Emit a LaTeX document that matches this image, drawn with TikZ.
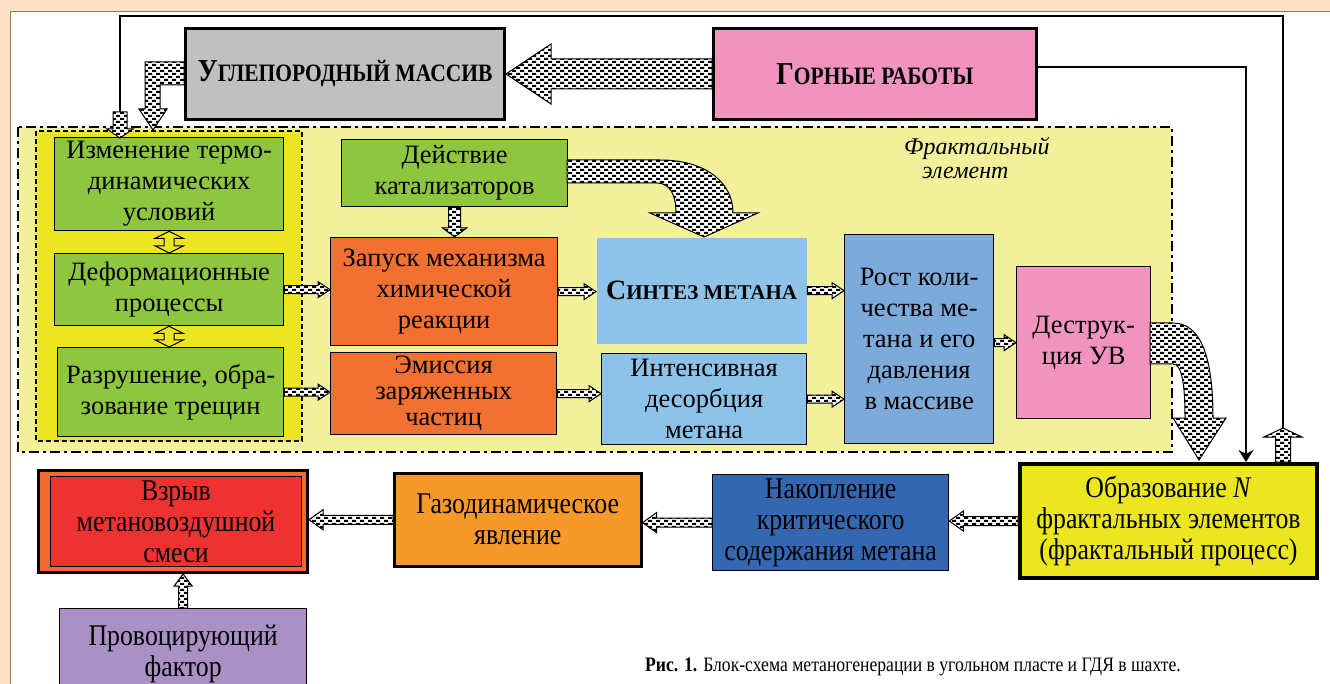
\documentclass[tikz,border=0pt]{standalone}
\usepackage{fontspec}
\setmainfont{Liberation Serif}
\newfontfamily\condf[FakeStretch=0.86]{Liberation Serif}
\usetikzlibrary{patterns,calc,arrows.meta}
\definecolor{cpeach}{HTML}{FDE4C9}
\definecolor{colive}{HTML}{8C8046}
\definecolor{cfrac}{HTML}{F3F09B}
\definecolor{cinner}{HTML}{EBE61F}
\definecolor{cgreen}{HTML}{8EC640}
\definecolor{corange}{HTML}{F27030}
\definecolor{csin}{HTML}{8EC3E9}
\definecolor{crost}{HTML}{7BAADB}
\definecolor{cpink}{HTML}{F193BF}
\definecolor{cgray}{HTML}{C0C0C0}
\definecolor{cobr}{HTML}{EBE620}
\definecolor{cnak}{HTML}{3567B1}
\definecolor{cgaz}{HTML}{F7982B}
\definecolor{cvzro}{HTML}{F26B2E}
\definecolor{cred}{HTML}{EE3232}
\definecolor{cprov}{HTML}{A990C5}
\pgfdeclarepatternformonly{mydots}{\pgfpoint{-1pt}{-1pt}}{\pgfpoint{9pt}{7pt}}{\pgfpoint{8pt}{6pt}}{%
  \pgfpathrectangle{\pgfpoint{0pt}{0pt}}{\pgfpoint{4pt}{2pt}}%
  \pgfpathrectangle{\pgfpoint{4pt}{3pt}}{\pgfpoint{4pt}{2pt}}%
  \pgfusepath{fill}}
\tikzset{
  blk/.style={draw=black, line width=1pt, line join=miter, preaction={fill=white}, pattern=mydots, pattern color=black},
  box/.style={draw=black, line width=1.3pt, inner sep=0pt, align=center, anchor=north west, font=\fontsize{26.5}{31}\selectfont},
  cbox/.style={box, font=\condf\fontsize{30}{31}\selectfont},
  tbox/.style={box, line width=3pt, font=\condf\bfseries},
}
\newcommand\hblk[6][]{%
  \draw[blk,#1] let \p1=(#2), \p2=(#3), \n1={ifthenelse(\x2>\x1,1,-1)} in
   (\x1,{\y1+#4}) -- ({\x2-(\n1)*#6},{\y1+#4}) -- ({\x2-(\n1)*#6},{\y1+#5}) -- (\x2,\y1)
   -- ({\x2-(\n1)*#6},{\y1-#5}) -- ({\x2-(\n1)*#6},{\y1-#4}) -- (\x1,{\y1-#4}) -- cycle;}
\newcommand\vblk[6][]{%
  \draw[blk,#1] let \p1=(#2), \p2=(#3), \n1={ifthenelse(\y2>\y1,1,-1)} in
   ({\x1+#4},\y1) -- ({\x1+#4},{\y2-(\n1)*#6}) -- ({\x1+#5},{\y2-(\n1)*#6}) -- (\x1,\y2)
   -- ({\x1-#5},{\y2-(\n1)*#6}) -- ({\x1-#4},{\y2-(\n1)*#6}) -- ({\x1-#4},\y1) -- cycle;}
\newcommand\dvblk[6][]{%
  \draw[draw=black, line width=1pt,#1] let \p1=(#2), \p2=(#3) in
   (\x1,\y1) -- ({\x1+#5},{\y1-#6}) -- ({\x1+#4},{\y1-#6}) -- ({\x1+#4},{\y2+#6}) -- ({\x1+#5},{\y2+#6})
   -- (\x1,\y2) -- ({\x1-#5},{\y2+#6}) -- ({\x1-#4},{\y2+#6}) -- ({\x1-#4},{\y1-#6}) -- ({\x1-#5},{\y1-#6}) -- cycle;}
\begin{document}
\begin{tikzpicture}[x=1pt,y=-1pt]
\useasboundingbox (0,0) rectangle (1330,684);
\fill[cpeach] (0,0) rectangle (1330,684);
\draw[colive, fill=white, line width=1pt] (10,12) rectangle (1340,700);

% fractal element frame
\draw[fill=cfrac, line width=2.8pt, dash pattern=on 10pt off 4pt on 3pt off 4pt] (18,127) rectangle (1172,452);
\draw[fill=cinner, line width=1.8pt, dash pattern=on 5pt off 3pt] (36,131) rectangle (302,441);
\node[font=\fontsize{24}{24.5}\selectfont\itshape, align=left, anchor=north west, inner sep=0pt] (fr) at (904,137)
  {Фрактальный\\\hspace*{18pt}элемент};

% top boxes
\node[tbox, fill=cgray, minimum width=319, minimum height=91] (ugl) at (184,27)
  {{\fontsize{32}{34}\selectfont У}{\fontsize{25}{34}\selectfont ГЛЕПОРОДНЫЙ МАССИВ}};
\node[tbox, fill=cpink, minimum width=323, minimum height=91] (gor) at (712,27)
  {{\fontsize{32}{34}\selectfont Г}{\fontsize{25}{34}\selectfont ОРНЫЕ РАБОТЫ}};

% inner boxes
\node[box, fill=cgreen, minimum width=229, minimum height=93] (izm) at (54,137) {Изменение термо-\\динамических\\условий};
\node[box, fill=cgreen, minimum width=229, minimum height=72] (def) at (54,253) {Деформационные\\процессы};
\node[box, fill=cgreen, minimum width=226, minimum height=89] (raz) at (57,347) {Разрушение, обра-\\зование трещин};
\node[box, fill=cgreen, minimum width=226, minimum height=67] (kat) at (341,139) {Действие\\катализаторов};
\node[box, fill=corange, minimum width=227, minimum height=108] (zap) at (330,237) {Запуск механизма\\химической\\реакции};
\node[box, fill=corange, minimum width=226, minimum height=82, font=\fontsize{26.5}{26}\selectfont] (emi) at (330,352) {Эмиссия\\заряженных\\частиц};
\node[box, draw=none, fill=csin, minimum width=210, minimum height=106] (sin) at (596,237)
  {\bfseries{\fontsize{28}{30}\selectfont С}{\fontsize{21}{30}\selectfont ИНТЕЗ МЕТАНА}};
\node[box, fill=csin, minimum width=205, minimum height=91] (int) at (601,353) {Интенсивная\\десорбция\\метана};
\node[box, fill=crost, minimum width=149, minimum height=209] (rost) at (844,234) {Рост коли-\\чества ме-\\тана и его\\давления\\в массиве};
\node[box, fill=cpink, minimum width=134, minimum height=152] (des) at (1016,266) {Деструк-\\ция УВ};

% bottom boxes
\node[cbox, line width=4pt, fill=cobr, minimum width=297, minimum height=114] (obr) at (1018,462)
  {Образование \textit{N}\\фрактальных элементов\\(фрактальный процесс)};
\node[cbox, fill=cnak, minimum width=236, minimum height=96] (nak) at (712,474) {Накопление\\критического\\содержания метана};
\node[cbox, line width=2.5pt, fill=cgaz, minimum width=247, minimum height=93] (gaz) at (393,472) {Газодинамическое\\явление};
\node[box, line width=3pt, fill=cvzro, minimum width=269, minimum height=102] (vzr) at (37,469) {};
\node[cbox, line width=1pt, fill=cred, minimum width=251, minimum height=90] (vzrin) at (50,476) {Взрыв\\метановоздушной\\смеси};
\node[cbox, fill=cprov, minimum width=247, minimum height=90] (prov) at (59,608) {Провоцирующий\\фактор};

% caption
\node[font=\condf\fontsize{20.5}{22}\selectfont] (cap) at (913,667) {\textbf{Рис. 1.} Блок-схема метаногенерации в угольном пласте и ГДЯ в шахте.};

% loop line and small arrows
\coordinate (uptip) at (1283,428);
\coordinate (dtop) at (120,112);
\coordinate (dtip) at (120,138);
\coordinate (gx) at (1246,0);
\draw[line width=1.2pt] (uptip) |- (120,16) -- (dtop);
\vblk{uptip |- obr.north}{uptip}{7.5}{19}{9}
\vblk{dtop}{dtip}{7}{13}{9}
\draw[line width=2.5pt, -{Stealth[length=12pt,width=15pt]}] ($(gor.east)+(0,-7)$) -| (gx |- obr.north);

% big arrows
\hblk{gor.west}{ugl.east}{15}{30}{45}
\draw[blk] (184,62) -- (145,62) -- (145,109) -- (139,109) -- (153,130) -- (167,109) -- (160,109) -- (160,85) -- (184,85) -- cycle;
\draw[blk] (567,160) -- (660,160) .. controls (705,160) and (733,182) .. (733,213) -- (758,213) -- (704,237) -- (650,213) -- (676,213)
   .. controls (676,195) and (670,183) .. (657,183) -- (567,183) -- cycle;
\draw[blk] (1150,323) -- (1173,323) .. controls (1200,323) and (1213,355) .. (1213,418) -- (1226,418) -- (1199,460) -- (1173,418) -- (1185,418)
   .. controls (1185,385) and (1182,364) .. (1173,364) -- (1150,364) -- cycle;

% double arrows
\dvblk[fill=cinner]{izm.south}{def.north}{5}{14}{7}
\dvblk[fill=cinner]{def.south}{def.south |- raz.north}{5}{14}{7}

% small arrows
\vblk{kat.south}{kat.south |- zap.north}{6}{12}{9}
\hblk{def.east}{def.east -| zap.west}{4}{8}{12}
\hblk{raz.east}{raz.east -| emi.west}{4}{8}{12}
\hblk{zap.east}{zap.east -| sin.west}{4}{8}{12}
\hblk{emi.east}{emi.east -| int.west}{4}{8}{12}
\hblk{sin.east}{sin.east -| rost.west}{4}{8}{12}
\hblk{int.east}{int.east -| rost.west}{4}{8}{12}
\hblk{des.west -| rost.east}{des.west}{4}{8}{12}
\hblk{obr.west}{obr.west -| nak.east}{4.5}{10}{14}
\hblk{nak.west}{nak.west -| gaz.east}{4.5}{10}{14}
\hblk{gaz.west}{gaz.west -| vzr.east}{4.5}{10}{14}
\vblk{prov.north}{prov.north |- vzr.south}{4.5}{9}{12}
\end{tikzpicture}
\end{document}
